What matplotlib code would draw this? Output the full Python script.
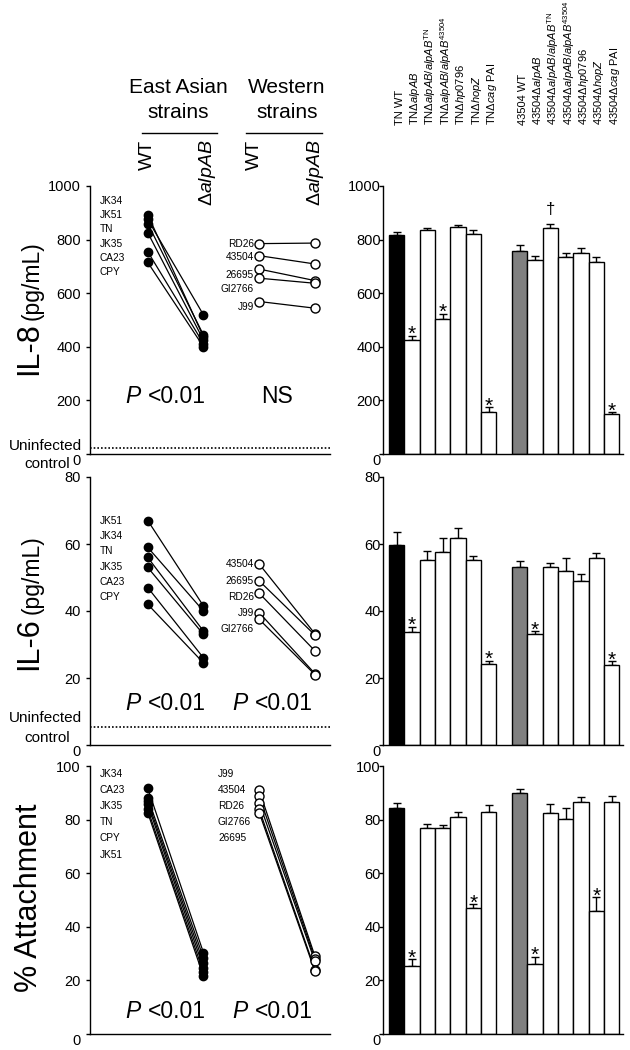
import matplotlib
matplotlib.use("Agg")
import matplotlib.pyplot as plt
import matplotlib.transforms as mtransforms
import numpy as np

plt.rcParams['font.family'] = ['Liberation Sans', 'DejaVu Sans']
plt.rcParams['mathtext.fontset'] = 'custom'
plt.rcParams['mathtext.rm'] = 'Liberation Sans'
plt.rcParams['mathtext.it'] = 'Liberation Sans:italic'
plt.rcParams['mathtext.bf'] = 'Liberation Sans:bold'
plt.rcParams['axes.linewidth'] = 1.0

# ---------------- data: paired strain panels ----------------
il8_east_strains = ["JK34", "JK51", "TN", "JK35", "CA23", "CPY"]
il8_east_wt = [893, 875, 860, 826, 755, 715]
il8_east_mut = [437, 519, 444, 425, 412, 400]
il8_west_strains = ["RD26", "43504", "26695", "GI2766", "J99"]
il8_west_wt = [785, 740, 690, 656, 569]
il8_west_mut = [787, 709, 647, 637, 544]

il6_east_strains = ["JK51", "JK34", "TN", "JK35", "CA23", "CPY"]
il6_east_wt = [67, 59, 56, 53, 47, 42]
il6_east_mut = [41.5, 40, 34, 33, 26, 24.5]
il6_west_strains = ["43504", "26695", "RD26", "J99", "GI2766"]
il6_west_wt = [54, 49, 45.3, 39.5, 37.5]
il6_west_mut = [33.2, 32.8, 28.1, 21.3, 21.0]

att_east_strains = ["JK34", "CA23", "JK35", "TN", "CPY", "JK51"]
att_east_wt = [91.7, 88.2, 86.9, 85.7, 83.8, 82.6]
att_east_mut = [30.3, 28.4, 26.5, 24.7, 23.0, 21.5]
att_west_strains = ["J99", "43504", "RD26", "GI2766", "26695"]
att_west_wt = [90.9, 88.8, 86.3, 83.8, 82.6]
att_west_mut = [29.0, 28.0, 27.1, 24.0, 23.4]

il8_control = 21
il6_control = 5.5

il8_p_east, il8_p_west = "P <0.01", "NS"
il6_p_east, il6_p_west = "P <0.01", "P <0.01"
att_p_east, att_p_west = "P <0.01", "P <0.01"

# ---------------- data: bar panels ----------------
bar_labels = [
    "TN WT",
    "TN\u0394$\\mathit{alpAB}$",
    "TN\u0394$\\mathit{alpAB/alpAB}^{\\mathrm{TN}}$",
    "TN\u0394$\\mathit{alpAB/alpAB}^{\\mathrm{43504}}$",
    "TN\u0394$\\mathit{hp0796}$",
    "TN\u0394$\\mathit{hopZ}$",
    "TN\u0394$\\mathit{cag}$ PAI",
    "43504 WT",
    "43504\u0394$\\mathit{alpAB}$",
    "43504\u0394$\\mathit{alpAB/alpAB}^{\\mathrm{TN}}$",
    "43504\u0394$\\mathit{alpAB/alpAB}^{\\mathrm{43504}}$",
    "43504\u0394$\\mathit{hp0796}$",
    "43504\u0394$\\mathit{hopZ}$",
    "43504\u0394$\\mathit{cag}$ PAI",
]
bar_positions = [0, 1, 2, 3, 4, 5, 6, 8, 9, 10, 11, 12, 13, 14]

il8_means = [817, 426, 834, 502, 846, 822, 157, 758, 723, 842, 735, 750, 718, 148]
il8_err = [12, 15, 9, 20, 10, 13, 17, 22, 14, 15, 14, 18, 17, 7]
il8_marks = {1: "*", 3: "*", 6: "*", 9: "\u2020", 13: "*"}

il6_means = [59.8, 33.6, 55.2, 57.6, 61.7, 55.2, 24.2, 53.1, 33.0, 53.2, 51.9, 48.9, 55.8, 23.8]
il6_err = [3.7, 1.7, 2.8, 4.3, 3.0, 1.3, 0.9, 1.8, 0.9, 1.1, 3.8, 2.1, 1.5, 1.2]
il6_marks = {1: "*", 6: "*", 8: "*", 13: "*"}

att_means = [84.5, 25.2, 77.0, 76.9, 81.1, 47.0, 83.0, 89.8, 26.3, 82.5, 80.4, 86.7, 46.0, 86.7]
att_err = [1.7, 2.6, 1.2, 0.9, 1.7, 1.4, 2.6, 1.6, 2.6, 3.5, 3.8, 1.8, 5.0, 2.0]
att_marks = {1: "*", 5: "*", 8: "*", 12: "*"}

# ---------------- layout ----------------
W, H = 630, 1050
fig = plt.figure(figsize=(W / 100, H / 100), dpi=100)


def fx(px):
    return px / W


def fy(py):
    return 1 - py / H


rows = [(186, 454), (477, 745), (766, 1034)]
LX0, RX0, AW = 90, 383, 240


def make_axes(x0, row):
    top, bot = row
    return fig.add_axes([fx(x0), fy(bot), AW / W, (bot - top) / H])


def style_axis(ax, ymax, step, pad):
    ax.set_ylim(0, ymax)
    ax.set_yticks(np.arange(0, ymax + step / 2, step))
    ax.spines['top'].set_visible(False)
    ax.spines['right'].set_visible(False)
    ax.set_xticks([])
    ax.tick_params(axis='y', direction='out', length=3, width=1, labelsize=10.5, pad=pad)
    ax.yaxis.get_major_ticks()[0].label1.set_verticalalignment('top')


def draw_left(ax, east_s, east_wt, east_mut, west_s, west_wt, west_mut,
              ymax, step, control, east_lab, west_lab, west_align, west_lab_x):
    style_axis(ax, ymax, step, 3.5)
    ax.set_xlim(-0.036, 4.27)
    for a, b in zip(east_wt, east_mut):
        ax.plot([1, 2], [a, b], color='black', lw=0.9, zorder=2)
    for a, b in zip(west_wt, west_mut):
        ax.plot([3, 4], [a, b], color='black', lw=0.9, zorder=2)
    ax.plot([1] * len(east_wt), east_wt, 'o', ms=6, color='black', zorder=3)
    ax.plot([2] * len(east_mut), east_mut, 'o', ms=6, color='black', zorder=3)
    ax.plot([3] * len(west_wt), west_wt, 'o', ms=6.5, mfc='white', mec='black', mew=1, zorder=3)
    ax.plot([4] * len(west_mut), west_mut, 'o', ms=6.5, mfc='white', mec='black', mew=1, zorder=3)
    if control is not None:
        ax.axhline(control, color='black', ls=(0, (1, 1.2)), lw=1.2, clip_on=False)
    # strain names
    y0, dy = east_lab
    for i, s in enumerate(east_s):
        fig.text(fx(100), fy(y0 + i * dy), s, fontsize=7.3, ha='left', va='center')
    for s, py in zip(west_s, west_lab):
        fig.text(fx(west_lab_x), fy(py), s, fontsize=7.3, ha=west_align, va='center')


def draw_right(ax, means, errs, marks, ymax, step):
    style_axis(ax, ymax, step, -1.5)
    ax.set_xlim(-0.89, 14.74)
    colors = ['black'] + ['white'] * 6 + ['#808080'] + ['white'] * 6
    ax.errorbar(bar_positions, means, yerr=[np.zeros(len(means)), errs], fmt='none',
                ecolor='black', elinewidth=1, capsize=2.7, capthick=1, zorder=1)
    ax.bar(bar_positions, means, width=1, color=colors, edgecolor='black', lw=1, zorder=2)
    for i, m in marks.items():
        top = means[i] + errs[i]
        if m == "*":
            ax.annotate(m, (bar_positions[i], top), xytext=(0, -3), textcoords='offset points',
                        ha='center', va='baseline', fontsize=15)
        else:
            ax.annotate(m, (bar_positions[i], top), xytext=(0, 5), textcoords='offset points',
                        ha='center', va='bottom', fontsize=12)


# Row 1 : IL-8
ax1l = make_axes(LX0, rows[0])
draw_left(ax1l, il8_east_strains, il8_east_wt, il8_east_mut,
          il8_west_strains, il8_west_wt, il8_west_mut, 1000, 200, il8_control,
          (201, 14.2), [244, 257, 275, 288.5, 307], 'right', 254)
ax1r = make_axes(RX0, rows[0])
draw_right(ax1r, il8_means, il8_err, il8_marks, 1000, 200)

# Row 2 : IL-6
ax2l = make_axes(LX0, rows[1])
draw_left(ax2l, il6_east_strains, il6_east_wt, il6_east_mut,
          il6_west_strains, il6_west_wt, il6_west_mut, 80, 20, il6_control,
          (521, 15.2), [564, 580.7, 596.7, 612.7, 629.3], 'right', 254)
ax2r = make_axes(RX0, rows[1])
draw_right(ax2r, il6_means, il6_err, il6_marks, 80, 20)

# Row 3 : attachment
ax3l = make_axes(LX0, rows[2])
draw_left(ax3l, att_east_strains, att_east_wt, att_east_mut,
          att_west_strains, att_west_wt, att_west_mut, 100, 20, None,
          (774, 16.1), [774, 790, 806, 821.7, 838.3], 'left', 218)
ax3r = make_axes(RX0, rows[2])
draw_right(ax3r, att_means, att_err, att_marks, 100, 20)


# P-value annotations
def ptext(px, py, s):
    if s.startswith("P"):
        fig.text(fx(px), fy(py), "P", fontsize=16.5, style='italic', ha='left', va='baseline')
        fig.text(fx(px + 23), fy(py), s[1:].strip(), fontsize=16.5, ha='left', va='baseline')
    else:
        fig.text(fx(px + 44), fy(py), s, fontsize=16.5, ha='center', va='baseline')


ptext(125, 403, il8_p_east)
ptext(233, 403, il8_p_west)
ptext(125, 710, il6_p_east)
ptext(232, 710, il6_p_west)
ptext(125, 1018, att_p_east)
ptext(232, 1018, att_p_west)

# Uninfected control labels
for yb1, yb2 in [(450, 467.7), (721.7, 741.7)]:
    fig.text(fx(81.7), fy(yb1), "Uninfected", fontsize=11, ha='right', va='baseline')
    fig.text(fx(70), fy(yb2), "control", fontsize=11, ha='right', va='baseline')

# Y axis labels
for big, yb, ys in [("IL-8", 375, 320), ("IL-6", 670, 614), ("% Attachment", 992, None)]:
    fig.text(fx(37), fy(yb), big, fontsize=22, rotation=90, rotation_mode='anchor',
             ha='left', va='baseline')
    if ys is not None:
        fig.text(fx(39), fy(ys), "(pg/mL)", fontsize=16.5, rotation=90, rotation_mode='anchor',
                 ha='left', va='baseline')

# Header for left column
fig.text(fx(178), fy(93), "East Asian", fontsize=15, ha='center', va='baseline')
fig.text(fx(178), fy(118), "strains", fontsize=15, ha='center', va='baseline')
fig.text(fx(287), fy(93), "Western", fontsize=15, ha='center', va='baseline')
fig.text(fx(287), fy(118), "strains", fontsize=15, ha='center', va='baseline')
for xa, xb in [(142, 217), (246, 322)]:
    fig.add_artist(plt.Line2D([fx(xa), fx(xb)], [fy(132.7), fy(132.7)], color='black', lw=1,
                              transform=fig.transFigure))
for px, s in [(147, "WT"), (207, "\u0394$\\mathit{alpAB}$"), (254, "WT"), (315, "\u0394$\\mathit{alpAB}$")]:
    fig.text(fx(px), fy(140), s, fontsize=14, rotation=90, ha='center', va='top')

# Header for bar column
trans = mtransforms.blended_transform_factory(ax1r.transData, fig.transFigure)
for p, s in zip(bar_positions, bar_labels):
    fig.text(p + 0.2, fy(125), s, fontsize=8, rotation=90, ha='center', va='bottom',
             transform=trans)

fig.savefig("out.png", dpi=100)
